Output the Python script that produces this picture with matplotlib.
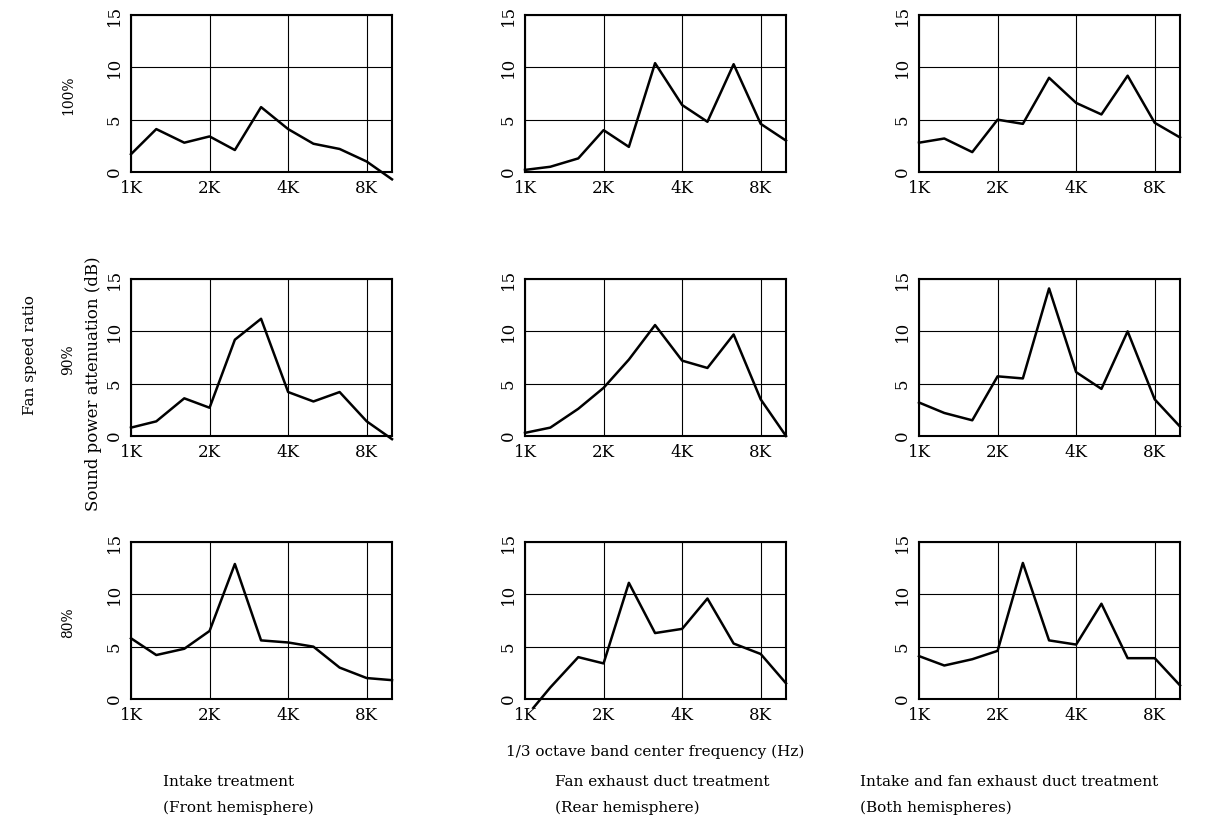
import matplotlib
matplotlib.use("Agg")
import matplotlib.pyplot as plt
from matplotlib.transforms import Bbox, TransformedBbox
from matplotlib.ticker import NullLocator

plt.rcParams['font.family'] = ['DejaVu Serif']

# 1/3 octave band centre frequencies (Hz)
freqs = [1000, 1250, 1600, 2000, 2500, 3150, 4000, 5000, 6300, 8000, 10000]

# Sound power attenuation (dB), rows = fan speed ratio, cols = treatment
intake_100 = [1.7, 4.1, 2.8, 3.4, 2.1, 6.2, 4.1, 2.7, 2.2, 1.0, -0.7]
exhaust_100 = [0.2, 0.5, 1.3, 4.0, 2.4, 10.4, 6.4, 4.8, 10.3, 4.6, 3.0]
both_100 = [2.8, 3.2, 1.9, 5.0, 4.6, 9.0, 6.6, 5.5, 9.2, 4.7, 3.3]

intake_90 = [0.8, 1.4, 3.6, 2.7, 9.2, 11.2, 4.2, 3.3, 4.2, 1.4, -0.3]
exhaust_90 = [0.3, 0.8, 2.6, 4.6, 7.3, 10.6, 7.2, 6.5, 9.7, 3.5, 0.0]
both_90 = [3.2, 2.2, 1.5, 5.7, 5.5, 14.1, 6.1, 4.5, 10.0, 3.5, 0.9]

intake_80 = [5.8, 4.2, 4.8, 6.5, 12.9, 5.6, 5.4, 5.0, 3.0, 2.0, 1.8]
exhaust_80 = [-1.8, 1.1, 4.0, 3.4, 11.1, 6.3, 6.7, 9.6, 5.3, 4.3, 1.5]
both_80 = [4.1, 3.2, 3.8, 4.6, 13.0, 5.6, 5.2, 9.1, 3.9, 3.9, 1.3]

panels = [[intake_100, exhaust_100, both_100],
          [intake_90, exhaust_90, both_90],
          [intake_80, exhaust_80, both_80]]

xticks = [1000, 2000, 4000, 8000]
xticklabels = ['1K', '2K', '4K', '8K']
yticks = [0, 5, 10, 15]
speed_labels = ['100%', '90%', '80%']
col_titles = [("Intake treatment", "(Front hemisphere)"),
              ("Fan exhaust duct treatment", "(Rear hemisphere)"),
              ("Intake and fan exhaust duct treatment", "(Both hemispheres)")]

W, H = 1229, 833
fig = plt.figure(figsize=(W / 100, H / 100), dpi=100)

col_left = [131, 525, 919]
row_top = [15, 279, 542]
aw, ah = 261, 157

for r in range(3):
    for c in range(3):
        ax = fig.add_axes([col_left[c] / W, 1 - (row_top[r] + ah) / H, aw / W, ah / H])
        ax.set_xscale('log')
        ax.set_xlim(1000, 10000)
        ax.set_ylim(0, 15)
        ax.xaxis.set_minor_locator(NullLocator())
        ax.set_xticks(xticks)
        ax.set_xticklabels(xticklabels)
        ax.set_yticks(yticks)
        ax.set_yticklabels([str(v) for v in yticks], rotation=90, va='center')
        ax.tick_params(axis='x', length=0, labelsize=12, pad=6)
        ax.tick_params(axis='y', length=0, labelsize=12, pad=6)
        ax.grid(True, color='black', linewidth=0.8)
        for s in ax.spines.values():
            s.set_linewidth(1.5)
        line, = ax.plot(freqs, panels[r][c], color='black', linewidth=1.8)
        line.set_clip_path(None)
        line.set_clip_box(TransformedBbox(Bbox([[-0.01, -0.06], [1.02, 1.0]]), ax.transAxes))

# left labels
for r, lab in enumerate(speed_labels):
    yc = row_top[r] + ah / 2 + 2
    fig.text(68 / W, 1 - yc / H, lab, rotation=90, ha='center', va='center', fontsize=10)

fig.text(30 / W, 1 - 355 / H, "Fan speed ratio", rotation=90, ha='center', va='center', fontsize=11)
fig.text(94 / W, 1 - 384 / H, "Sound power attenuation (dB)", rotation=90, ha='center', va='center', fontsize=12)

fig.text(655 / W, 1 - 752 / H, "1/3 octave band center frequency (Hz)", ha='center', va='center', fontsize=11)

title_x = [163, 555, 860]
for c, (t1, t2) in enumerate(col_titles):
    fig.text(title_x[c] / W, 1 - 782 / H, t1, ha='left', va='center', fontsize=11)
    fig.text(title_x[c] / W, 1 - 808 / H, t2, ha='left', va='center', fontsize=11)

fig.savefig('out.png', dpi=100)
